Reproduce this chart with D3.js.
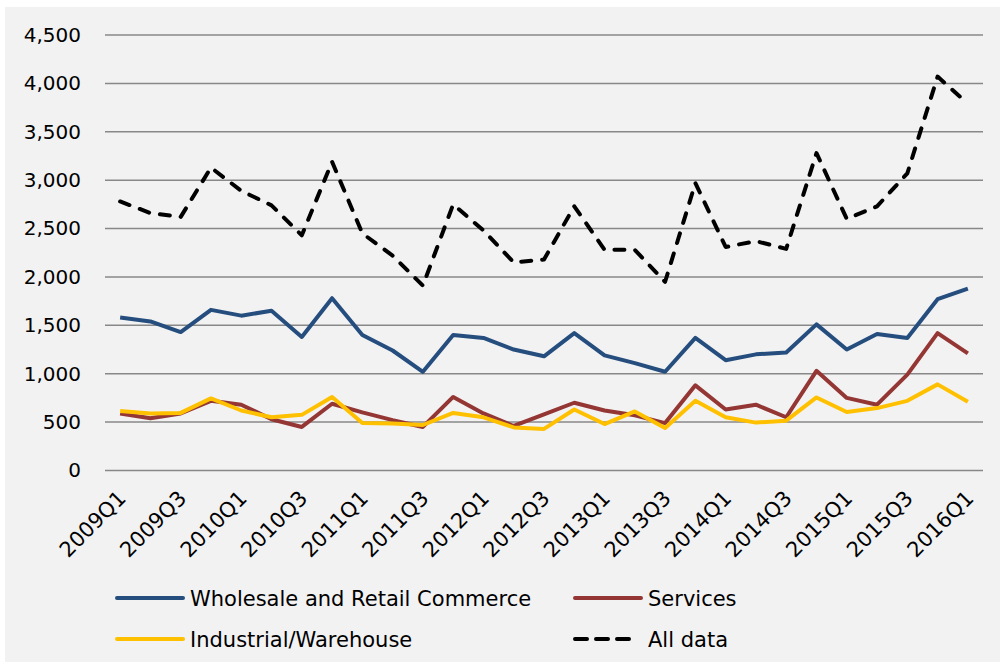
<!DOCTYPE html>
<html>
<head>
<meta charset="utf-8">
<script src="https://cdn.jsdelivr.net/npm/d3@7"></script>
<style>
  body { margin: 0; background: #fff; }
  text { font-family: "DejaVu Sans", Verdana, sans-serif; fill: #000; }
</style>
</head>
<body>
<svg id="chart" width="1003" height="666"></svg>
<script>
// quarters 2009Q1 .. 2016Q1
var quarters = [];
for (var yr = 2009; yr <= 2016; yr++) {
  for (var q = 1; q <= 4; q++) {
    if (yr == 2016 && q > 1) break;
    quarters.push(yr + "Q" + q);
  }
}

var wholesale = [1580, 1540, 1430, 1660, 1600, 1650, 1380, 1780, 1400, 1240,
                 1020, 1400, 1370, 1250, 1180, 1420, 1190, 1110, 1020, 1370,
                 1140, 1200, 1220, 1510, 1250, 1410, 1370, 1770, 1880];
var services  = [590, 540, 590, 720, 680, 530, 450, 690, 600, 520,
                 450, 760, 590, 460, 580, 700, 620, 570, 490, 880,
                 630, 680, 550, 1030, 750, 680, 990, 1420, 1210];
var industrial = [615, 590, 595, 745, 620, 550, 575, 760, 490, 485,
                  470, 595, 550, 445, 430, 630, 480, 610, 440, 720,
                  550, 495, 515, 755, 605, 645, 720, 890, 710];
var allData   = [2780, 2660, 2620, 3130, 2890, 2740, 2430, 3190, 2450, 2220,
                 1910, 2750, 2480, 2150, 2180, 2730, 2280, 2280, 1950, 2970,
                 2310, 2370, 2290, 3280, 2600, 2730, 3070, 4070, 3790];

var yTicks = [0, 500, 1000, 1500, 2000, 2500, 3000, 3500, 4000, 4500];
var xTickLabels = quarters.filter(function(d, i) { return i % 2 == 0; });

var series = [
  { name: "Wholesale and Retail Commerce", values: wholesale, color: "#254e7f", dash: null },
  { name: "Services", values: services, color: "#943634", dash: null },
  { name: "Industrial/Warehouse", values: industrial, color: "#ffc000", dash: null },
  { name: "All data", values: allData, color: "#000000", dash: "10,11" }
];

var svg = d3.select("#chart");

// chart area background
svg.append("rect")
  .attr("x", 5).attr("y", 7)
  .attr("width", 995).attr("height", 655)
  .attr("fill", "#f2f2f2");

var plotLeft = 105, plotRight = 983, plotTop = 35, plotBottom = 470.5;

var x = d3.scaleBand()
  .domain(quarters)
  .range([plotLeft, plotRight]);

var y = d3.scaleLinear()
  .domain([0, 4500])
  .range([plotBottom, plotTop]);

// gridlines
svg.append("g")
  .selectAll("line")
  .data(yTicks)
  .join("line")
  .attr("x1", plotLeft)
  .attr("x2", plotRight)
  .attr("y1", function(d) { return y(d); })
  .attr("y2", function(d) { return y(d); })
  .attr("stroke", "#888888")
  .attr("stroke-width", 1.5);

// y axis labels
var yAxis = svg.append("g")
  .attr("transform", "translate(" + plotLeft + ",0)")
  .call(d3.axisLeft(y).tickValues(yTicks).tickSize(0).tickPadding(24).tickFormat(d3.format(",")));
yAxis.select(".domain").remove();
yAxis.selectAll("text")
  .style("font-size", "20px")
  .attr("font-family", null);

// x axis labels
var xAxis = svg.append("g")
  .attr("transform", "translate(0," + plotBottom + ")")
  .call(d3.axisBottom(x).tickValues(xTickLabels).tickSize(0));
xAxis.select(".domain").remove();
xAxis.selectAll("text")
  .attr("font-family", null)
  .style("font-size", "21px")
  .attr("text-anchor", "end")
  .attr("dy", null)
  .attr("y", 0)
  .attr("transform", "translate(7,29) rotate(-45)");

// lines
var line = d3.line()
  .x(function(d, i) { return x(quarters[i]) + x.bandwidth() / 2; })
  .y(function(d) { return y(d); });

svg.append("g")
  .selectAll("path")
  .data(series)
  .join("path")
  .attr("d", function(s) { return line(s.values); })
  .attr("fill", "none")
  .attr("stroke", function(s) { return s.color; })
  .attr("stroke-width", 4)
  .attr("stroke-linejoin", "round")
  .attr("stroke-linecap", function(s) { return s.dash ? "round" : "butt"; })
  .attr("stroke-dasharray", function(s) { return s.dash; });

// legend
var legendPos = [[115, 598], [573, 598], [115, 639], [573, 639]];
var legend = svg.append("g")
  .selectAll("g")
  .data(series)
  .join("g")
  .attr("transform", function(s, i) { return "translate(" + legendPos[i][0] + "," + legendPos[i][1] + ")"; });

legend.append("line")
  .attr("x1", 2).attr("x2", function(s) { return s.dash ? 62 : 68; })
  .attr("y1", 0).attr("y2", 0)
  .attr("stroke", function(s) { return s.color; })
  .attr("stroke-width", 4)
  .attr("stroke-linecap", "round")
  .attr("stroke-dasharray", function(s) { return s.dash ? "12,9" : null; });

legend.append("text")
  .attr("x", 75)
  .attr("y", 0)
  .attr("dy", "0.36em")
  .style("font-size", "21px")
  .text(function(s) { return s.name; });
</script>
</body>
</html>
